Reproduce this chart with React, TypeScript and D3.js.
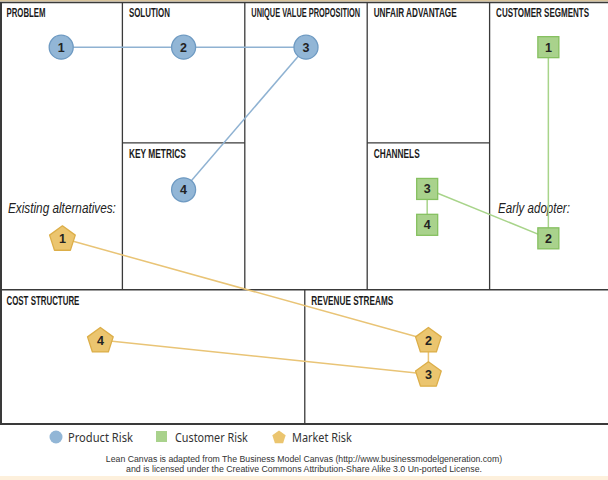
import React, { useLayoutEffect, useRef, useState } from "react";
import * as d3 from "d3";

const W = 608;
const H = 480;

// Sections of the lean canvas, in column units (0-5) and row units (0-100)
const sectionTitles = ["PROBLEM", "SOLUTION", "UNIQUE VALUE PROPOSITION", "UNFAIR ADVANTAGE", "CUSTOMER SEGMENTS", "KEY METRICS", "CHANNELS", "COST STRUCTURE", "REVENUE STREAMS"];
const sectionX = [0, 1, 2, 3, 4, 1, 3, 0, 2.49];
const sectionY = [0, 0, 0, 0, 0, 33.4, 33.4, 68.2, 68.2];
const titleWidths = [39, 41, 109, 83, 93, 57, 46, 73, 82];

// Risk series: ordered steps
const productLabels = ["1", "2", "3", "4"];
const productX = [0.5, 1.5, 2.5, 1.5];
const productY = [10.7, 10.7, 10.7, 44.5];
const productLinks: [number, number][] = [[0, 1], [1, 2], [2, 3]];

const customerLabels = ["1", "2", "3", "4"];
const customerX = [4.48, 4.48, 3.49, 3.49];
const customerY = [10.7, 56.0, 44.3, 52.8];
const customerLinks: [number, number][] = [[0, 1], [2, 1], [2, 3]];

const marketLabels = ["1", "2", "3", "4"];
const marketX = [0.51, 3.5, 3.5, 0.82];
const marketY = [56.0, 80.1, 88.2, 80.1];
const marketLinks: [number, number][] = [[0, 1], [1, 2], [2, 3]];

const legendLabels = ["Product Risk", "Customer Risk", "Market Risk"];
const legendWidths = [65, 73, 60];
const footerLines = [
  "Lean Canvas is adapted from The Business Model Canvas (http://www.businessmodelgeneration.com)",
  "and is licensed under the Creative Commons Attribution-Share Alike 3.0 Un-ported License.",
];
const footerWidths = [397, 356];

const x = d3.scaleLinear().domain([0, 5]).range([0, 612]);
const y = d3.scaleLinear().domain([0, 100]).range([2, 424]);

const BLUE = "#92b6d6";
const BLUE_S = "#6e9ac2";
const GREEN = "#a9d28c";
const GREEN_S = "#86c060";
const GOLD = "#ebc56f";
const GOLD_S = "#dcae48";
const LINE_BLUE = "#8fb2d2";
const LINE_GREEN = "#a8d48a";
const LINE_GOLD = "#e9c476";

const SANS = "'Liberation Sans', Arial, sans-serif";

function pentagon(cx: number, cy: number, r: number) {
  const pts = d3.range(5).map((i) => {
    const a = -Math.PI / 2 + (i * 2 * Math.PI) / 5;
    return [cx + r * Math.cos(a), cy + r * Math.sin(a)] as [number, number];
  });
  return d3.line()(pts.concat([pts[0]])) + "Z";
}

function FitText(props: any) {
  const { x: tx, y: ty, width, anchor, children, ...rest } = props;
  const ref = useRef<SVGTextElement>(null);
  const [s, setS] = useState(1);
  useLayoutEffect(() => {
    if (ref.current) {
      const w = ref.current.getComputedTextLength();
      if (w > 0) setS(width / w);
    }
  }, [width, children]);
  return (
    <text ref={ref} transform={`translate(${tx},${ty}) scale(${s},1)`} textAnchor={anchor || "start"} {...rest}>
      {children}
    </text>
  );
}

export default function App() {
  const stroke = "#3a3a3a";
  return (
    <svg width={W} height={H} style={{ position: "absolute", left: 0, top: 0, background: "#fff" }}>
      <rect x={0} y={0} width={W} height={1.5} fill="#d8c49c" />
      <rect x={0} y={476} width={W} height={4} fill="#fdf0dc" />
      {/* grid */}
      <g stroke={stroke} fill="none">
        <line x1={1} x2={1} y1={y(0)} y2={y(100)} strokeWidth={2} />
        <line x1={0} x2={W} y1={y(0) + 0.5} y2={y(0) + 0.5} strokeWidth={1.5} />
        <line x1={0} x2={W} y1={y(68.2)} y2={y(68.2)} strokeWidth={1.5} />
        <line x1={0} x2={W} y1={y(100)} y2={y(100)} strokeWidth={2} />
        {[1, 2, 3, 4].map((c) => (
          <line key={c} x1={x(c)} x2={x(c)} y1={y(0)} y2={y(68.2)} strokeWidth={1.3} />
        ))}
        <line x1={x(1)} x2={x(2)} y1={y(33.4)} y2={y(33.4)} strokeWidth={1.3} />
        <line x1={x(3)} x2={x(4)} y1={y(33.4)} y2={y(33.4)} strokeWidth={1.3} />
        <line x1={x(2.49)} x2={x(2.49)} y1={y(68.2)} y2={y(100)} strokeWidth={1.3} />
      </g>
      {sectionTitles.map((t, i) => (
        <FitText key={t} x={x(sectionX[i]) + 6.5} y={y(sectionY[i]) + 15} width={titleWidths[i]} fontFamily={SANS} fontWeight="bold" fontSize={13.5} fill="#1a1a1a">
          {t}
        </FitText>
      ))}
      <FitText x={8} y={213} width={108} fontFamily={SANS} fontStyle="italic" fontSize={14} fill="#222">Existing alternatives:</FitText>
      <FitText x={498} y={213} width={72} fontFamily={SANS} fontStyle="italic" fontSize={14} fill="#222">Early adopter:</FitText>
      {/* links */}
      <g strokeWidth={1.5} fill="none">
        {productLinks.map(([a, b], i) => (
          <line key={"p" + i} x1={x(productX[a])} y1={y(productY[a])} x2={x(productX[b])} y2={y(productY[b])} stroke={LINE_BLUE} />
        ))}
        {customerLinks.map(([a, b], i) => (
          <line key={"c" + i} x1={x(customerX[a])} y1={y(customerY[a])} x2={x(customerX[b])} y2={y(customerY[b])} stroke={LINE_GREEN} />
        ))}
        {marketLinks.map(([a, b], i) => (
          <line key={"m" + i} x1={x(marketX[a])} y1={y(marketY[a])} x2={x(marketX[b])} y2={y(marketY[b])} stroke={LINE_GOLD} />
        ))}
      </g>
      {/* markers */}
      {productLabels.map((l, i) => (
        <g key={"pm" + i}>
          <circle cx={x(productX[i])} cy={y(productY[i])} r={12} fill={BLUE} stroke={BLUE_S} strokeWidth={1.3} />
          <text x={x(productX[i])} y={y(productY[i]) + 4.5} textAnchor="middle" fontFamily={SANS} fontWeight="bold" fontSize={12.5} fill="#222">{l}</text>
        </g>
      ))}
      {customerLabels.map((l, i) => (
        <g key={"cm" + i}>
          <rect x={x(customerX[i]) - 10.5} y={y(customerY[i]) - 10.5} width={21} height={21} fill={GREEN} stroke={GREEN_S} strokeWidth={1.3} />
          <text x={x(customerX[i])} y={y(customerY[i]) + 4.5} textAnchor="middle" fontFamily={SANS} fontWeight="bold" fontSize={12.5} fill="#222">{l}</text>
        </g>
      ))}
      {marketLabels.map((l, i) => (
        <g key={"mm" + i}>
          <path d={pentagon(x(marketX[i]), y(marketY[i]) + 1, 13.5)} fill={GOLD} stroke={GOLD_S} strokeWidth={1.3} strokeLinejoin="round" />
          <text x={x(marketX[i])} y={y(marketY[i]) + 5} textAnchor="middle" fontFamily={SANS} fontWeight="bold" fontSize={12.5} fill="#222">{l}</text>
        </g>
      ))}
      {/* legend */}
      <g>
        <circle cx={56} cy={437} r={6.5} fill={BLUE} />
        <FitText x={68} y={441.5} width={legendWidths[0]} fontFamily="'Noto Sans', sans-serif" fontSize={12.5} fill="#333">{legendLabels[0]}</FitText>
        <rect x={156} y={431} width={11} height={11} fill={GREEN} />
        <FitText x={175} y={441.5} width={legendWidths[1]} fontFamily="'Noto Sans', sans-serif" fontSize={12.5} fill="#333">{legendLabels[1]}</FitText>
        <path d={pentagon(279, 437.5, 7)} fill={GOLD} />
        <FitText x={292} y={441.5} width={legendWidths[2]} fontFamily="'Noto Sans', sans-serif" fontSize={12.5} fill="#333">{legendLabels[2]}</FitText>
      </g>
      {footerLines.map((t, i) => (
        <FitText key={i} x={304} y={461.5 + i * 10} width={footerWidths[i]} anchor="middle" fontFamily={SANS} fontSize={8.8} fill="#333">{t}</FitText>
      ))}
    </svg>
  );
}
